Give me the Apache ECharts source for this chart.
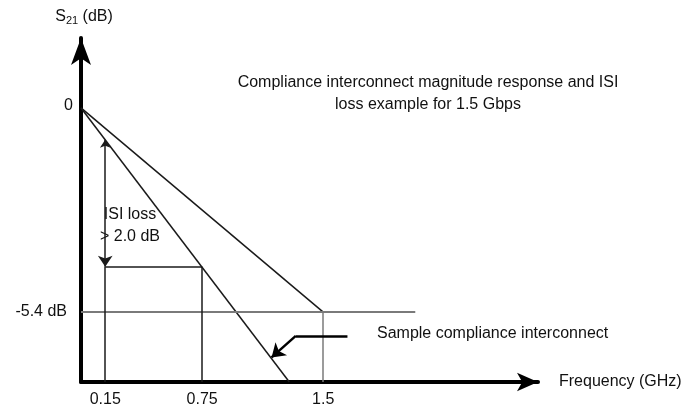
<!DOCTYPE html>
<html>
<head>
<meta charset="utf-8">
<script src="https://cdn.jsdelivr.net/npm/echarts@6/dist/echarts.min.js"></script>
<style>html,body{margin:0;padding:0;background:#fff;}#c{width:686px;height:409px;}</style>
</head>
<body>
<div id="c"></div>
<script>
// ---- data ----
const xTickValues = [0.15, 0.75, 1.5];
const xTickLabels = ['0.15', '0.75', '1.5'];
const yTickValues = [0, -5.4];
const yTickLabels = ['0', '-5.4 dB'];
const complianceLimit = [[0, 0], [1.5, -5.4]];
const sampleInterconnect = [[0, 0], [1.29, -7.25]];
const refLevel = [[0, -5.4], [2.07, -5.4]];
const refDrop = [[1.5, -5.4], [1.5, -7.25]];
const isiArrow = [[0.15, -0.84], [0.15, -4.2]];
const isiDrop = [[0.15, -4.2], [0.15, -7.25]];
const isiLevel = [[0.15, -4.2], [0.75, -4.2]];
const isiDrop2 = [[0.75, -4.2], [0.75, -7.25]];
const leaderBar = [[1.65, -6.03], [1.33, -6.03]];
const leaderArrow = [[1.33, -6.03], [1.18, -6.6]];

const FONT = 'Liberation Sans';
const FS = 16;
const chart = echarts.init(document.getElementById('c'));

function seg(coords, color, width, symbol, size) {
  return {
    type: 'lines', coordinateSystem: 'cartesian2d', silent: true,
    symbol: symbol || 'none', symbolSize: size || 8,
    lineStyle: { color: color, width: width, opacity: 1 },
    data: [{ coords: coords }]
  };
}

chart.setOption({
  animation: false,
  backgroundColor: '#fff',
  grid: { left: 81, right: 148, top: 38, bottom: 27 },
  xAxis: {
    type: 'value', min: 0, max: 2.83,
    name: 'Frequency (GHz)', nameLocation: 'end', nameGap: 21,
    nameTextStyle: { fontFamily: FONT, fontSize: FS, color: '#111' },
    axisLine: { show: true, onZero: false, lineStyle: { color: '#000', width: 4 }, symbol: ['none', 'arrow'], symbolSize: [14, 21] },
    axisTick: { show: false },
    splitLine: { show: false },
    axisLabel: {
      customValues: xTickValues,
      formatter: v => xTickLabels[xTickValues.indexOf(v)],
      fontFamily: FONT, fontSize: FS, color: '#111', margin: 10
    }
  },
  yAxis: {
    type: 'value', min: -7.25, max: 1.85,
    name: '{s|S}{sub|21}{s| (dB)}', nameLocation: 'end', nameGap: 12,
    nameTextStyle: {
      padding: [0, 0, 0, 6],
      rich: {
        s: { fontFamily: FONT, fontSize: FS, color: '#111' },
        sub: { fontFamily: FONT, fontSize: 11, color: '#111', verticalAlign: 'bottom', padding: [8, 0, 0, 0] }
      }
    },
    axisLine: { show: true, onZero: false, lineStyle: { color: '#000', width: 4 }, symbol: ['none', 'arrow'], symbolSize: [15, 27] },
    axisTick: { show: false },
    splitLine: { show: false },
    axisLabel: {
      customValues: yTickValues,
      formatter: v => (v === 0 ? '{z|' : '{d|') + yTickLabels[yTickValues.indexOf(v)] + '}',
      rich: {
        z: { fontFamily: FONT, fontSize: FS, color: '#111', padding: [0, 0, 4, 0] },
        d: { fontFamily: FONT, fontSize: FS, color: '#111', padding: [0, 6, 0, 0] }
      },
      margin: 8
    }
  },
  graphic: [
    { type: 'text', x: 428, y: 94, style: { text: 'Compliance interconnect magnitude response and ISI\nloss example for 1.5 Gbps', fontFamily: FONT, fontSize: FS, fill: '#111', align: 'center', verticalAlign: 'middle', lineHeight: 22 } },
    { type: 'text', x: 130, y: 226, style: { text: 'ISI loss\n> 2.0 dB', fontFamily: FONT, fontSize: FS, fill: '#111', align: 'center', verticalAlign: 'middle', lineHeight: 22 } },
    { type: 'text', x: 377, y: 334, style: { text: 'Sample compliance interconnect', fontFamily: FONT, fontSize: FS, fill: '#111', align: 'left', verticalAlign: 'middle' } }
  ],
  series: [
    seg(complianceLimit, '#1a1a1a', 1.5),
    seg(sampleInterconnect, '#1a1a1a', 1.5),
    seg(refLevel, '#7a7a7a', 1.8),
    seg(refDrop, '#7a7a7a', 1.5),
    seg(isiDrop, '#1a1a1a', 1.5),
    seg(isiLevel, '#1a1a1a', 1.5),
    seg(isiDrop2, '#1a1a1a', 1.5),
    seg(isiArrow, '#1a1a1a', 1.5, ['arrow', 'arrow'], [8, 11]),
    seg(leaderBar, '#000', 2.5),
    seg(leaderArrow, '#000', 2.5, ['none', 'arrow'], [10, 13])
  ]
});
</script>
</body>
</html>
